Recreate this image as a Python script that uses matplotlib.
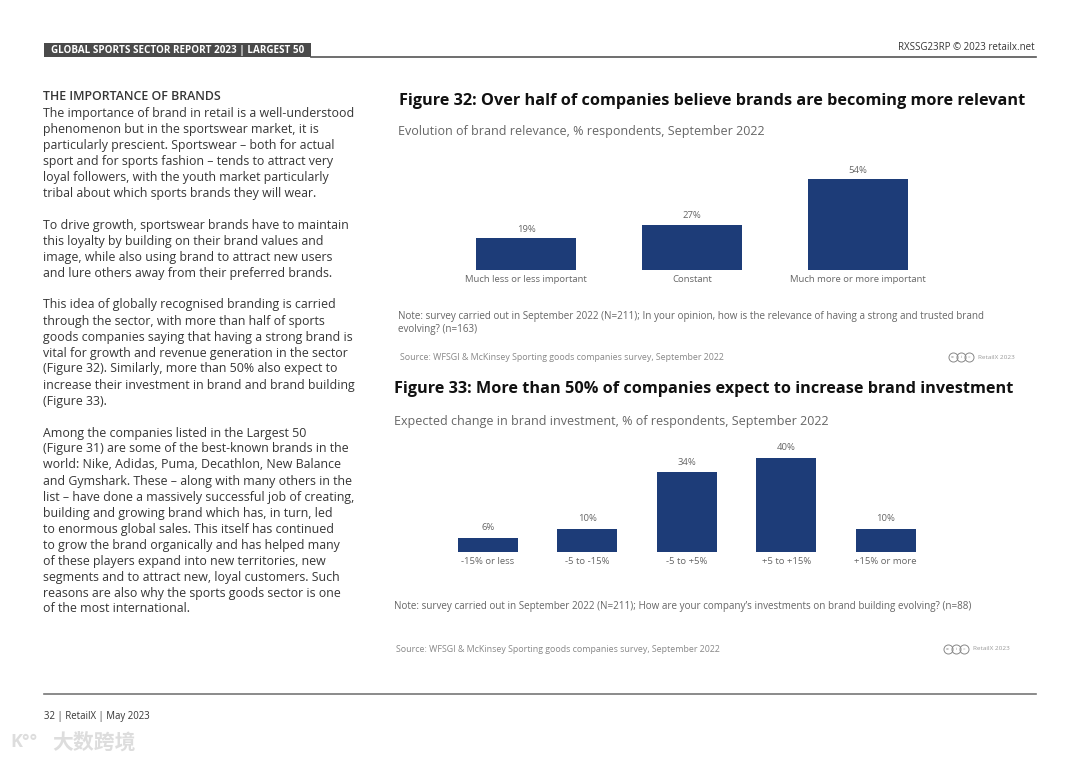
import matplotlib
matplotlib.use("Agg")
import matplotlib.pyplot as plt
from matplotlib.patches import Rectangle
from matplotlib.lines import Line2D

plt.rcParams['font.family'] = ['Open Sans', 'DejaVu Sans']

W, H = 1080, 763

# Figure 32 data
rel_cats = ["Much less or less important", "Constant", "Much more or more important"]
rel_vals = [19, 27, 54]

# Figure 33 data
inv_cats = ["-15% or less", "-5 to -15%", "-5 to +5%", "+5 to +15%", "+15% or more"]
inv_vals = [6, 10, 34, 40, 10]

body = [
    "The importance of brand in retail is a well-understood",
    "phenomenon but in the sportswear market, it is",
    "particularly prescient. Sportswear \u2013 both for actual",
    "sport and for sports fashion \u2013 tends to attract very",
    "loyal followers, with the youth market particularly",
    "tribal about which sports brands they will wear.",
    "",
    "To drive growth, sportswear brands have to maintain",
    "this loyalty by building on their brand values and",
    "image, while also using brand to attract new users",
    "and lure others away from their preferred brands.",
    "",
    "This idea of globally recognised branding is carried",
    "through the sector, with more than half of sports",
    "goods companies saying that having a strong brand is",
    "vital for growth and revenue generation in the sector",
    "(Figure 32). Similarly, more than 50% also expect to",
    "increase their investment in brand and brand building",
    "(Figure 33).",
    "",
    "Among the companies listed in the Largest 50",
    "(Figure 31) are some of the best-known brands in the",
    "world: Nike, Adidas, Puma, Decathlon, New Balance",
    "and Gymshark. These \u2013 along with many others in the",
    "list \u2013 have done a massively successful job of creating,",
    "building and growing brand which has, in turn, led",
    "to enormous global sales. This itself has continued",
    "to grow the brand organically and has helped many",
    "of these players expand into new territories, new",
    "segments and to attract new, loyal customers. Such",
    "reasons are also why the sports goods sector is one",
    "of the most international.",
]

BAR = "#1d3c78"
TXT = "#363636"
GREY = "#666666"

fig = plt.figure(figsize=(W / 100, H / 100), dpi=100)
fig.patch.set_facecolor("white")


def fx(x):
    return x / W


def fy(y):
    return 1 - y / H


def put(x, y, s, size, color=TXT, weight="normal", ha="left", **kw):
    fig.text(fx(x), fy(y), s, fontsize=size, color=color, fontweight=weight,
             ha=ha, va="center", **kw)


def cc_icons(x, y):
    # three small licence circles (cc / by / nd), drawn as shapes
    for k, sym in enumerate(["cc", "i", "="]):
        cx = x + k * 8
        fig.add_artist(Line2D([fx(cx)], [fy(y)], transform=fig.transFigure, marker="o",
                              ms=6.5, mfc="none", mec="#888888", mew=0.7))
        fig.text(fx(cx), fy(y), sym, fontsize=3.2, color="#888888", ha="center", va="center")


# header
fig.add_artist(Rectangle((fx(44), fy(57)), fx(311) - fx(44), fy(43) - fy(57),
                         transform=fig.transFigure, color="#4a4a4a", lw=0))
put(51, 50, "GLOBAL SPORTS SECTOR REPORT 2023 | LARGEST 50", 7.1, color="white", weight="bold")
fig.add_artist(Line2D([fx(311), fx(1036)], [fy(57), fy(57)], transform=fig.transFigure,
                      color="#555555", lw=1.2))
put(1035, 48, "RXSSG23RP \u00a9 2023 retailx.net", 7.0, color=TXT, ha="right")

# footer
fig.add_artist(Line2D([fx(44), fx(1036)], [fy(694), fy(694)], transform=fig.transFigure,
                      color="#777777", lw=1.2))
put(44, 717, "32 | RetailX | May 2023", 6.95, color=TXT)
put(10, 742, "K\u00b0\u00b0", 13, color="#dddddd", weight="bold")
fig.text(fx(52), fy(742), "\u5927\u6570\u8de8\u5883", fontsize=15, color="#dddddd",
         ha="left", va="center", family=["Noto Sans CJK SC", "DejaVu Sans"], fontweight="bold")

# left column
put(43, 97, "THE IMPORTANCE OF BRANDS", 8.9, weight="semibold")
y = 113
for line in body:
    if line:
        put(43, y, line, 8.9)
    y += 16

# Figure 32
put(399, 101, "Figure 32: Over half of companies believe brands are becoming more relevant", 11.7, color="#111111", weight="bold")
put(398, 131, "Evolution of brand relevance, % respondents, September 2022", 9.0, color=GREY)

ax1 = fig.add_axes([fx(443), fy(270), fx(941) - fx(443), fy(169) - fy(270)])
x1 = range(len(rel_vals))
ax1.bar(x1, rel_vals, width=0.6, color=BAR)
ax1.set_xlim(-0.5, len(rel_vals) - 0.5)
ax1.set_ylim(0, 60)
ax1.axis("off")
for i, v in enumerate(rel_vals):
    ax1.annotate(f"{v}%", (i, v), xytext=(0, 9), textcoords="offset pixels",
                 ha="center", va="center", fontsize=6.8, color=GREY)
    ax1.annotate(rel_cats[i], (i, 0), xytext=(0, -9), textcoords="offset pixels",
                 ha="center", va="center", fontsize=6.8, color=GREY)

put(398, 316, "Note: survey carried out in September 2022 (N=211); In your opinion, how is the relevance of having a strong and trusted brand", 7.1, color=GREY)
put(398, 329, "evolving? (n=163)", 7.1, color=GREY)
put(400, 357, "Source: WFSGI & McKinsey Sporting goods companies survey, September 2022", 6.4, color="#888888")
cc_icons(953, 357)
put(1015, 357, "RetailX 2023", 4.6, color="#999999", ha="right")

# Figure 33
put(394, 389, "Figure 33: More than 50% of companies expect to increase brand investment", 11.7, color="#111111", weight="bold")
put(394, 422, "Expected change in brand investment, % of respondents, September 2022", 9.0, color=GREY)

ax2 = fig.add_axes([fx(438), fy(552), fx(935.5) - fx(438), fy(448.6) - fy(552)])
x2 = range(len(inv_vals))
ax2.bar(x2, inv_vals, width=0.6, color=BAR)
ax2.set_xlim(-0.5, len(inv_vals) - 0.5)
ax2.set_ylim(0, 44)
ax2.axis("off")
for i, v in enumerate(inv_vals):
    ax2.annotate(f"{v}%", (i, v), xytext=(0, 10), textcoords="offset pixels",
                 ha="center", va="center", fontsize=6.8, color=GREY)
    ax2.annotate(inv_cats[i], (i, 0), xytext=(0, -9), textcoords="offset pixels",
                 ha="center", va="center", fontsize=6.8, color=GREY)

put(394, 607, "Note: survey carried out in September 2022 (N=211); How are your company\u2019s investments on brand building evolving? (n=88)", 7.1, color=GREY)
put(396, 649, "Source: WFSGI & McKinsey Sporting goods companies survey, September 2022", 6.4, color="#888888")
cc_icons(948, 649)
put(1010, 649, "RetailX 2023", 4.6, color="#999999", ha="right")

fig.savefig("out.png", dpi=100)
